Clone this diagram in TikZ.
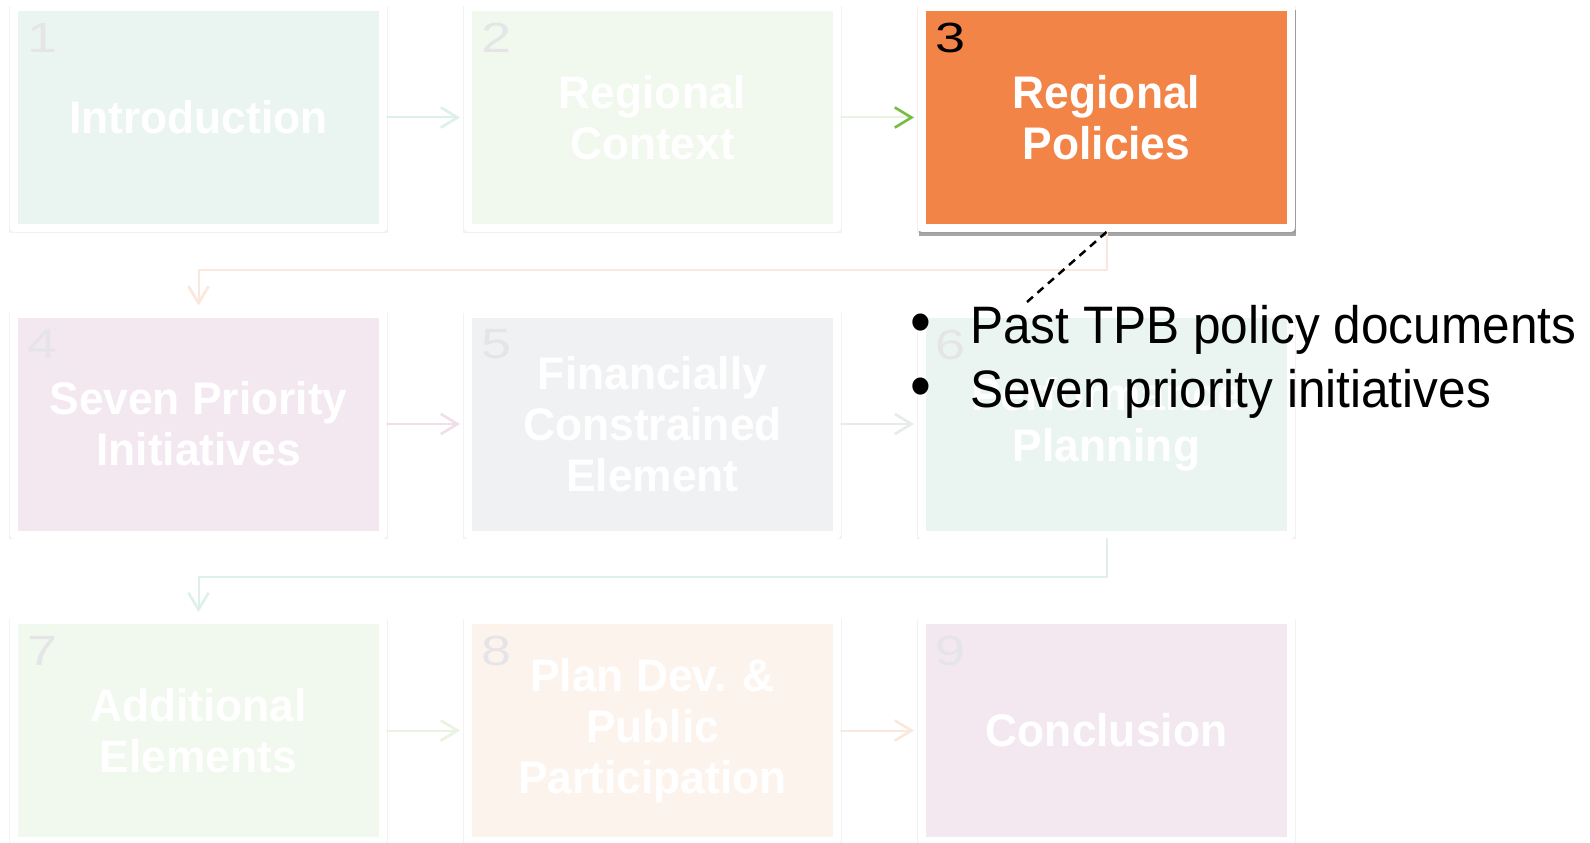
\documentclass[tikz,border=0pt]{standalone}
\usepackage{fontspec}
\setmainfont{Liberation Sans}
\newfontfamily\titlefont[FakeStretch=0.97]{Liberation Sans}
\newfontfamily\widefont[FakeStretch=1.28]{Liberation Sans}
\newfontfamily\notefont[FakeStretch=0.94]{Liberation Sans}
\usetikzlibrary{arrows.meta,shadows}
\definecolor{tealF}{RGB}{234,245,241}
\definecolor{tealL}{RGB}{222,240,235}
\definecolor{greenF}{RGB}{241,248,237}
\definecolor{greenL}{RGB}{232,243,226}
\definecolor{pinkF}{RGB}{243,232,240}
\definecolor{pinkL}{RGB}{240,222,232}
\definecolor{grayF}{RGB}{240,241,243}
\definecolor{grayL}{RGB}{232,234,236}
\definecolor{peachF}{RGB}{253,243,237}
\definecolor{peachL}{RGB}{251,232,221}
\definecolor{hotorange}{RGB}{243,132,72}
\definecolor{headgreen}{RGB}{118,190,67}
\definecolor{digitgray}{RGB}{229,229,231}
\tikzset{
	tile/.style={draw=white, line width=0.16cm, line join=round, minimum width=7.38cm, minimum height=4.42cm, inner sep=0pt, align=center, text=white, font=\titlefont\bfseries\fontsize{26}{29}\selectfont, general shadow={fill=black, opacity=0.05, shadow scale=1.025, shadow yshift=-0.04cm}},
	hot/.style={general shadow={fill=black, opacity=0.35, shadow scale=1.02, shadow xshift=0.02cm, shadow yshift=-0.11cm}},
	num/.style={anchor=north west, inner sep=0pt, text=digitgray, font=\widefont\fontsize{24}{24}\selectfont},
	link/.style={line width=0.04cm, shorten >=0.08cm, ->},
}
\newcommand{\dotmark}{\makebox[1.16cm][l]{\hspace{-1pt}{\fontsize{36}{36}\selectfont\textbullet}}}
\begin{document}
\begin{tikzpicture}[line join=round, line cap=round, >={Straight Barb[length=9.5pt,width=11.5pt,line width=1.5pt]}]
	%Sizes.
	\def\xa{3.97};\def\dx{9.08};\def\ya{-2.35};\def\dy{6.13};
	%Page.
	\fill[white] (0,0) rectangle (31.8,-16.86);
	\useasboundingbox (0,0) rectangle (31.8,-16.86);
	%Boxes.
	\node[tile, fill=tealF] (b1) at (\xa,\ya) {Introduction};
	\node[tile, fill=greenF] (b2) at ({\xa+\dx},\ya) {Regional\\Context};
	\node[tile, hot, fill=hotorange] (b3) at ({\xa+2*\dx},\ya) {Regional\\Policies};
	\node[tile, fill=pinkF] (b4) at (\xa,{\ya-\dy}) {Seven Priority\\Initiatives};
	\node[tile, fill=grayF] (b5) at ({\xa+\dx},{\ya-\dy}) {Financially\\Constrained\\Element};
	\node[tile, fill=tealF] (b6) at ({\xa+2*\dx},{\ya-\dy}) {Performance\\Planning};
	\node[tile, fill=greenF] (b7) at (\xa,{\ya-2*\dy}) {Additional\\Elements};
	\node[tile, fill=peachF] (b8) at ({\xa+\dx},{\ya-2*\dy}) {Plan Dev. \&\\Public\\Participation};
	\node[tile, fill=pinkF] (b9) at ({\xa+2*\dx},{\ya-2*\dy}) {Conclusion};
	%Numbers.
	\foreach \i in {1,2,4,5,6,7,8,9}{
			\node[num] (n\i) at ([shift={(0.34,-0.40)}]b\i.north west) {\i};
		}
	\node[num, text=black] (n3) at ([shift={(0.34,-0.40)}]b3.north west) {3};
	%Arrows.
	\draw[link, tealL] (b1.east) -- (b2.west);
	\draw[link, greenL, -{Straight Barb[length=9.5pt,width=11.5pt,line width=1.5pt,color=headgreen]}] (b2.east) -- (b3.west);
	\draw[link, peachL] (b3.south) -- ++(0,-0.76) -| (b4.north);
	\draw[link, pinkL] (b4.east) -- (b5.west);
	\draw[link, grayL] (b5.east) -- (b6.west);
	\draw[link, tealL] (b6.south) -- ++(0,-0.76) -| (b7.north);
	\draw[link, greenL] (b7.east) -- (b8.west);
	\draw[link, peachL] (b8.east) -- (b9.west);
	%Notes.
	\node[anchor=base west, inner sep=0pt, align=left, font=\notefont\fontsize{30}{36.4}\selectfont] (notes) at (18.24,-8.14) {\dotmark Past TPB policy documents\\\dotmark Seven priority initiatives};
	\coordinate (tip) at (20.54,-6.04);
	\draw[line width=0.05cm, line cap=butt, dash pattern=on 0.16cm off 0.12cm] (b3.south) -- (tip);
\end{tikzpicture}
\end{document}
